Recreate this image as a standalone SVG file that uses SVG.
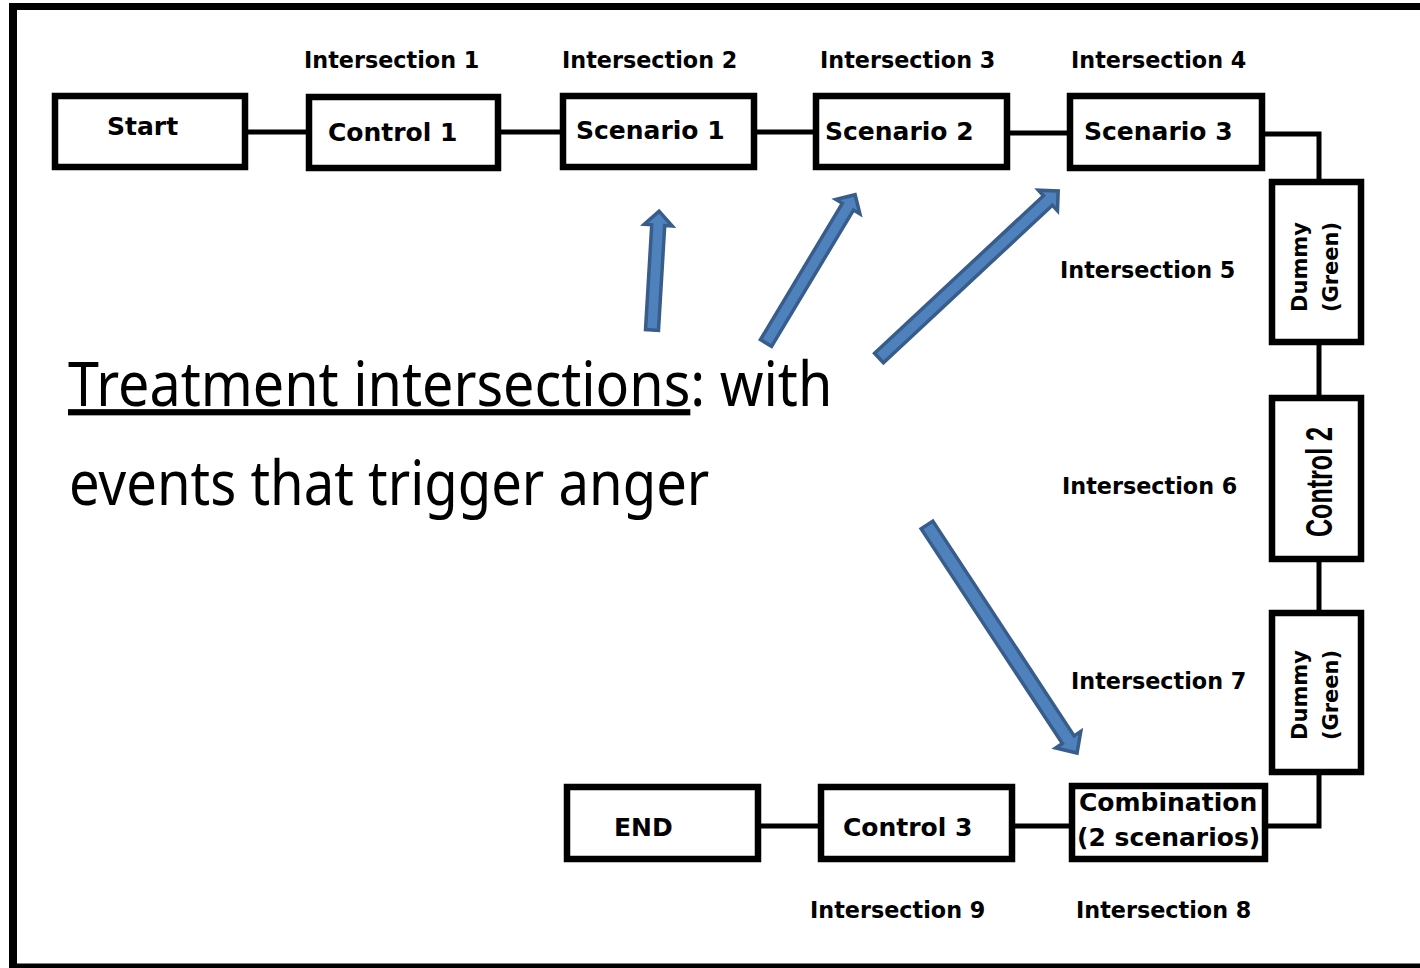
<svg xmlns="http://www.w3.org/2000/svg" width="1420" height="968" viewBox="0 0 1420 968">
<style>
.box{fill:#fff;stroke:#000;stroke-width:6.5}
.lbl{font-family:"DejaVu Sans",Verdana,sans-serif;font-weight:bold;font-size:25px;fill:#000}
.int{font-family:"DejaVu Sans",Verdana,sans-serif;font-weight:bold;font-size:22.3px;fill:#000}
.vl{font-family:"DejaVu Sans",Verdana,sans-serif;font-weight:bold;font-size:21px;fill:#000;text-anchor:middle}
.con{fill:none;stroke:#000;stroke-width:5}
.big{font-family:"Noto Sans","Open Sans",sans-serif;font-size:62px;fill:#000}
.arr{fill:#4F81BD;stroke:#385D8A;stroke-width:3.5;stroke-linejoin:miter}
</style>
<rect x="0" y="0" width="1420" height="968" fill="#fff"/>
<g id="frame">
<line x1="13" y1="6.5" x2="1420" y2="6.5" stroke="#000" stroke-width="7"/>
<line x1="13" y1="3" x2="13" y2="968" stroke="#000" stroke-width="8"/>
<line x1="9" y1="966" x2="1420" y2="966" stroke="#000" stroke-width="5"/>
</g>
<g id="connectors">
<line class="con" x1="248" y1="132" x2="306" y2="132"/>
<line class="con" x1="501" y1="132" x2="560" y2="132"/>
<line class="con" x1="757" y1="132" x2="813" y2="132"/>
<line class="con" x1="1010" y1="133" x2="1067" y2="133"/>
<polyline class="con" points="1265,134 1319,134 1319,179"/>
<line class="con" x1="1319" y1="345" x2="1319" y2="395"/>
<line class="con" x1="1319" y1="562" x2="1319" y2="610"/>
<polyline class="con" points="1319,775 1319,826 1268,826"/>
<line class="con" x1="1069" y1="826" x2="1015" y2="826"/>
<line class="con" x1="818" y1="826" x2="761" y2="826"/>
</g>
<g id="start"><rect class="box" x="55" y="96" width="190" height="71"/><text class="lbl" x="107" y="135">Start</text></g>
<g id="control1"><rect class="box" x="309" y="97" width="189" height="71"/><text class="lbl" x="328" y="141">Control 1</text><text class="int" x="304" y="68">Intersection 1</text></g>
<g id="scenario1"><rect class="box" x="563" y="96" width="191" height="71"/><text class="lbl" x="576" y="139">Scenario 1</text><text class="int" x="562" y="68">Intersection 2</text></g>
<g id="scenario2"><rect class="box" x="816" y="96" width="191" height="71"/><text class="lbl" x="825" y="140">Scenario 2</text><text class="int" x="820" y="68">Intersection 3</text></g>
<g id="scenario3"><rect class="box" x="1070" y="96" width="192" height="72"/><text class="lbl" x="1084" y="140">Scenario 3</text><text class="int" x="1071" y="68">Intersection 4</text></g>
<g id="dummy1"><rect class="box" x="1272" y="182" width="89" height="160"/>
<g transform="translate(1316,267) rotate(-90)"><text class="vl" x="0" y="-9">Dummy</text><text class="vl" x="0" y="22">(Green)</text></g>
<text class="int" x="1060" y="278">Intersection 5</text></g>
<g id="control2"><rect class="box" x="1272" y="398" width="89" height="161"/>
<g transform="translate(1332,482) rotate(-90)"><text x="0" y="0" text-anchor="middle" font-family="Liberation Sans Narrow,Liberation Sans,sans-serif" font-weight="bold" font-size="36" textLength="110" lengthAdjust="spacingAndGlyphs">Control 2</text></g>
<text class="int" x="1062" y="494">Intersection 6</text></g>
<g id="dummy2"><rect class="box" x="1272" y="613" width="89" height="159"/>
<g transform="translate(1316,695) rotate(-90)"><text class="vl" x="0" y="-9">Dummy</text><text class="vl" x="0" y="22">(Green)</text></g>
<text class="int" x="1071" y="689">Intersection 7</text></g>
<g id="combination"><rect class="box" x="1072" y="786" width="193" height="73"/><text class="lbl" x="1079" y="811">Combination</text><text class="lbl" x="1077" y="846">(2 scenarios)</text><text class="int" x="1076" y="918">Intersection 8</text></g>
<g id="control3"><rect class="box" x="821" y="787" width="191" height="72"/><text class="lbl" x="843" y="836">Control 3</text><text class="int" x="810" y="918">Intersection 9</text></g>
<g id="end"><rect class="box" x="567" y="787" width="191" height="72"/><text class="lbl" x="614" y="836">END</text></g>
<g id="caption">
<g transform="translate(68,0) scale(0.898,1)"><text class="big" x="0" y="406"><tspan text-decoration="underline">Treatment intersections</tspan>: with</text></g>
<g transform="translate(69,0) scale(0.878,1)"><text class="big" x="0" y="505">events that trigger anger</text></g>
</g>
<g id="arrows">
<path class="arr" transform="translate(652,330) rotate(-86.6)" d="M0,-6.5 L105,-6.5 L105,-14 L119,0 L105,14 L105,6.5 L0,6.5 Z"/>
<path class="arr" transform="translate(766,343) rotate(-59)" d="M0,-6.5 L159,-6.5 L159,-14 L173,0 L159,14 L159,6.5 L0,6.5 Z"/>
<path class="arr" transform="translate(879,358) rotate(-43)" d="M0,-6.5 L231,-6.5 L231,-14 L245,0 L231,14 L231,6.5 L0,6.5 Z"/>
<path class="arr" transform="translate(927,525) rotate(56.66)" d="M0,-7 L257,-7 L257,-15 L273,0 L257,15 L257,7 L0,7 Z"/>
</g>
</svg>
